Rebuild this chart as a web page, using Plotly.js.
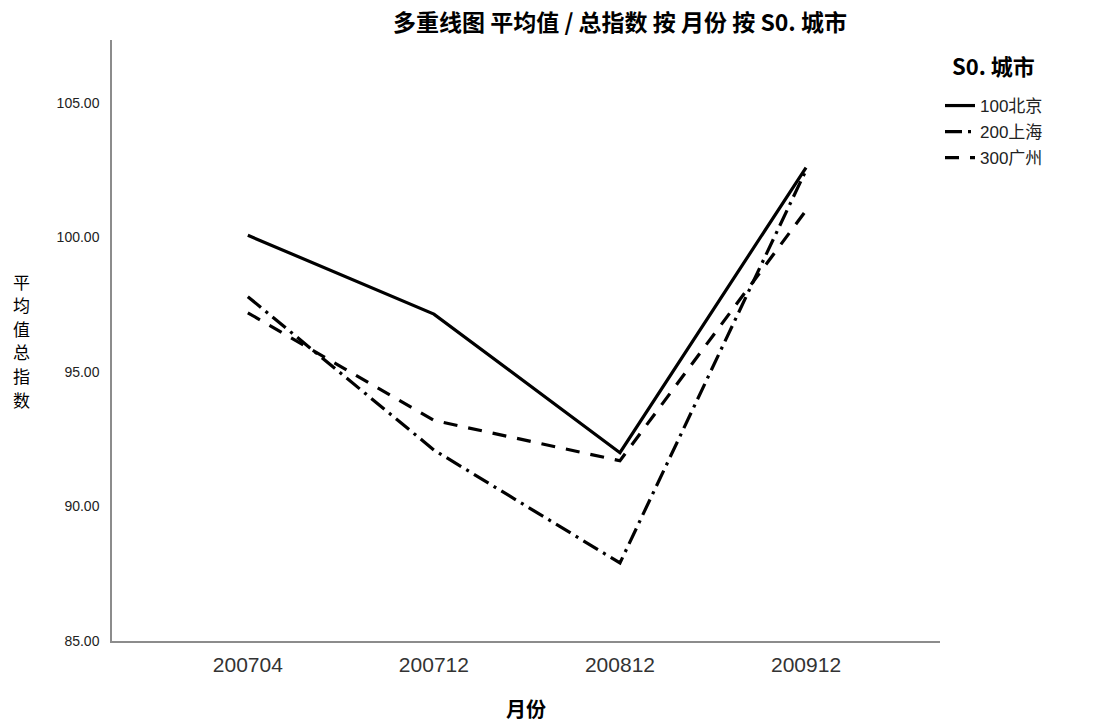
<!DOCTYPE html>
<html>
<head>
<meta charset="utf-8">
<script src="https://cdn.plot.ly/plotly-3.0.1.min.js"></script>
<style>html,body{margin:0;padding:0;background:#fff;}#chart{width:1113px;height:728px;}</style>
</head>
<body>
<div id="chart"></div>
<script>
const months = ['200704', '200712', '200812', '200912'];
const seriesNames = ['100北京', '200上海', '300广州'];
const beijing = [100.08, 97.15, 92.0, 102.6];
const shanghai = [97.8, 92.1, 87.9, 102.5];
const guangzhou = [97.2, 93.2, 91.7, 101.0];
const yTicks = [85, 90, 95, 100, 105];
const yTitleChars = ['平', '均', '值', '总', '指', '数'];

const num = 'Arial, "Liberation Sans", "Noto Sans CJK SC", sans-serif';
const cjk = '"Noto Sans CJK SC", sans-serif';
const values = [beijing, shanghai, guangzhou];
const dashes = ['solid', '17px,6px,3px,6px', '14px,11px'];
const legendIds = ['legend', 'legend2', 'legend3'];
const legendTopPx = [88, 114, 140];

const traces = values.map((v, i) => ({
  x: months, y: v, name: seriesNames[i], type: 'scatter', mode: 'lines',
  legend: legendIds[i],
  line: {color: '#000', width: 3.2, dash: dashes[i]}
}));

const plotTop = 40, plotBottom = 641, plotH = plotBottom - plotTop;
const legendCommon = (i) => ({
  x: 1.0, xanchor: 'left', y: (plotBottom - legendTopPx[i]) / plotH, yanchor: 'top',
  font: {family: num, size: 17, color: '#222'},
  itemwidth: 30, bgcolor: 'rgba(0,0,0,0)', borderwidth: 0
});

const annotations = yTitleChars.map((c, k) => ({
  text: c, xref: 'paper', yref: 'paper', showarrow: false,
  x: -(112 - 21) / 828, y: (plotBottom - (281 + k * 23.6)) / plotH,
  xanchor: 'center', yanchor: 'middle',
  font: {family: cjk, size: 17, color: '#000'}
}));
annotations.push({
  text: '<b>S0. 城市</b>', xref: 'paper', yref: 'paper', showarrow: false,
  x: (950 - 112) / 828, y: (plotBottom - 65) / plotH, xanchor: 'left', yanchor: 'middle',
  font: {family: cjk, size: 22, color: '#000'}
});

const layout = {
  width: 1113, height: 728,
  margin: {l: 112, r: 173, t: plotTop, b: 728 - plotBottom},
  paper_bgcolor: '#fff', plot_bgcolor: '#fff',
  showlegend: true,
  title: {text: '<b>多重线图 平均值 / 总指数 按 月份 按 S0. 城市</b>', x: 620 / 1113, xanchor: 'center', xref: 'container',
          y: 1 - 23 / 728, yanchor: 'middle', yref: 'container',
          font: {family: cjk, size: 23, color: '#000'}},
  xaxis: {
    type: 'category', range: [-0.73, 3.72], showgrid: false, zeroline: false,
    showline: true, linecolor: '#8c8c8c', linewidth: 1.5, ticks: '',
    ticklabelstandoff: 4,
    tickfont: {family: num, size: 21, color: '#333'},
    title: {text: '<b>月份</b>', standoff: 28, font: {family: cjk, size: 20, color: '#000'}}
  },
  yaxis: {
    range: [85, 107.34], showgrid: false, zeroline: false,
    showline: true, linecolor: '#8c8c8c', linewidth: 1.5, ticks: '',
    tickvals: yTicks, ticktext: yTicks.map(t => t.toFixed(2)),
    ticklabelstandoff: 8,
    tickfont: {family: num, size: 14, color: '#222'}
  },
  legend: legendCommon(0),
  legend2: legendCommon(1),
  legend3: legendCommon(2),
  annotations: annotations
};

Plotly.newPlot('chart', traces, layout, {displayModeBar: false});
</script>
</body>
</html>
